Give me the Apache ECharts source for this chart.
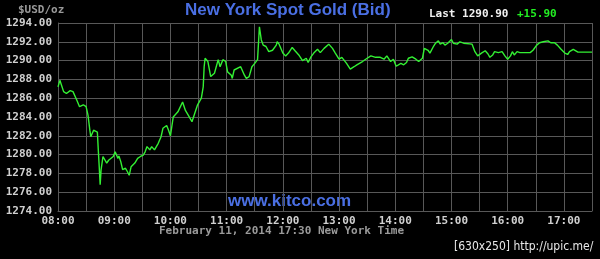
<!DOCTYPE html>
<html>
<head>
<meta charset="utf-8">
<style>html,body{margin:0;padding:0;background:#000;}#c{width:600px;height:259px;}</style>
<script src="https://cdn.jsdelivr.net/npm/echarts@6/dist/echarts.min.js"></script>
</head>
<body>
<div id="c"></div>
<script>
// minutes after 08:00 New York time
const minutes = [0,2,6,9,13,15,16,20,23,27,30,32,34,35,38,40,42,43,44,45,46,47,48,50,52,54,55,59,61,64,65,67,69,72,74,76,78,82,85,88,91,93,95,98,100,103,107,110,112,116,118,120,123,128,133,136,139,141,143,146,149,153,155,156,157,160,162,163,167,171,173,176,179,181,185,186,188,195,199,201,204,207,210,213,215,217,219,222,225,229,233,234,236,240,243,246,250,253,257,261,265,267,270,273,277,280,284,289,293,296,300,303,308,312,316,319,325,330,334,339,344,348,351,355,358,361,366,369,372,374,378,382,385,389,391,395,397,401,403,406,408,411,413,416,420,422,426,429,433,442,445,448,452,456,459,461,464,466,470,474,477,480,483,485,487,490,493,499,504,507,511,514,518,520,523,526,530,533,537,541,544,546,550,552,555,561,567,570];
const prices = [1287.2,1287.9,1286.7,1286.5,1286.8,1286.95,1286.7,1285.8,1285.1,1285.3,1285.1,1284.2,1282.6,1281.9,1282.6,1282.8,1282.4,1280.5,1278.7,1276.8,1278.4,1279.1,1279.8,1279.95,1279.1,1279.4,1279.25,1279.8,1280.3,1279.6,1279.85,1279.25,1278.4,1278.55,1278.2,1277.8,1278.7,1279.1,1279.6,1279.8,1279.95,1280.3,1280.85,1280.5,1280.85,1280.5,1281.2,1281.9,1282.8,1283.1,1282.6,1282.0,1284.0,1284.55,1285.6,1284.7,1284.2,1284.0,1283.5,1284.4,1285.3,1286.0,1287.2,1289.35,1290.25,1289.9,1290.1,1288.3,1288.65,1290.1,1289.35,1290.1,1289.9,1288.8,1288.45,1288.1,1289.0,1289.35,1288.45,1288.1,1288.3,1289.35,1289.7,1290.1,1293.6,1292.2,1291.65,1291.5,1290.95,1291.1,1291.65,1292.0,1291.75,1290.8,1290.5,1290.8,1291.4,1291.05,1290.6,1290.0,1290.25,1289.8,1290.4,1290.8,1291.2,1290.85,1291.3,1291.75,1291.3,1290.8,1290.15,1290.35,1289.7,1289.1,1289.35,1289.55,1289.9,1290.25,1290.5,1290.35,1290.35,1290.15,1290.5,1289.9,1290.15,1289.4,1289.7,1289.55,1289.8,1290.25,1290.4,1290.15,1289.9,1290.25,1291.3,1291.1,1290.8,1291.55,1291.85,1292.1,1291.75,1291.9,1291.65,1291.85,1292.25,1291.85,1291.75,1292.0,1291.85,1291.75,1290.95,1290.5,1290.8,1291.05,1290.7,1290.35,1290.6,1290.95,1290.85,1290.95,1290.5,1290.15,1290.5,1290.95,1290.6,1290.95,1290.85,1290.85,1290.85,1291.1,1291.65,1291.9,1292.0,1291.85,1292.1,1291.9,1291.9,1291.65,1291.2,1290.8,1290.65,1290.95,1291.2,1291.1,1290.9,1290.9,1290.9,1290.9];
const hourLabels = ['08:00','09:00','10:00','11:00','12:00','13:00','14:00','15:00','16:00','17:00'];
const yMin = 1274, yMax = 1294, yStep = 2;
const lastPrice = '1290.90', change = '+15.90';

const mono = 'DejaVu Sans Mono';
const chart = echarts.init(document.getElementById('c'), null, {renderer:'canvas'});
chart.setOption({
  backgroundColor: '#000',
  animation: false,
  grid: {left:58, right:8, top:23, bottom:48, containLabel:false},
  xAxis: {
    type:'value', min:0, max:570, interval:30,
    axisLine:{show:true, lineStyle:{color:'#585858', width:1}},
    axisTick:{show:false},
    splitLine:{show:true, lineStyle:{color:'#585858', width:1}},
    axisLabel:{
      color:'#d0d0d0', fontFamily:mono, fontWeight:'bold', fontSize:11, margin:5,
      formatter: v => (v % 60 === 0 && v < 570) ? hourLabels[v/60] : ''
    }
  },
  yAxis: {
    type:'value', min:yMin, max:yMax, interval:yStep,
    axisLine:{show:true, lineStyle:{color:'#585858', width:1}},
    axisTick:{show:false},
    splitLine:{show:true, lineStyle:{color:'#585858', width:1}},
    axisLabel:{color:'#d0d0d0', fontFamily:mono, fontWeight:'bold', fontSize:11, margin:6,
      formatter: v => v.toFixed(2)}
  },
  series: [{
    type:'line', data: minutes.map((m,i)=>[m, prices[i]]),
    showSymbol:false, symbol:'none',
    lineStyle:{color:'#33f033', width:1.4},
    silent:true
  }],
  graphic: [
    {type:'text', left:18, top:5, style:{text:'$USD/oz', fill:'#9a9a9a', font:'bold 11px "DejaVu Sans Mono"'}},
    {type:'text', left:185, top:2, style:{text:'New York Spot Gold (Bid)', fill:'#4a6fe3', font:'bold 17px "Liberation Sans"'}},
    {type:'text', left:429, top:9, style:{text:'Last ' + lastPrice, fill:'#f0f0f0', font:'bold 11px "DejaVu Sans Mono"'}},
    {type:'text', left:517, top:9, style:{text:change, fill:'#22ee22', font:'bold 11px "DejaVu Sans Mono"'}},
    {type:'text', left:228, top:193, style:{text:'www.kitco.com', fill:'#4a6fe3', font:'bold 17px "Liberation Sans"'}},
    {type:'text', left:159, top:226, style:{text:'February 11, 2014 17:30 New York Time', fill:'#9a9a9a', font:'bold 11px "DejaVu Sans Mono"'}},
    {type:'text', left:454, top:241, style:{text:'[630x250] http://upic.me/', fill:'#e8e8e8', font:'12px "DejaVu Sans Condensed"'}}
  ]
});
</script>
</body>
</html>
